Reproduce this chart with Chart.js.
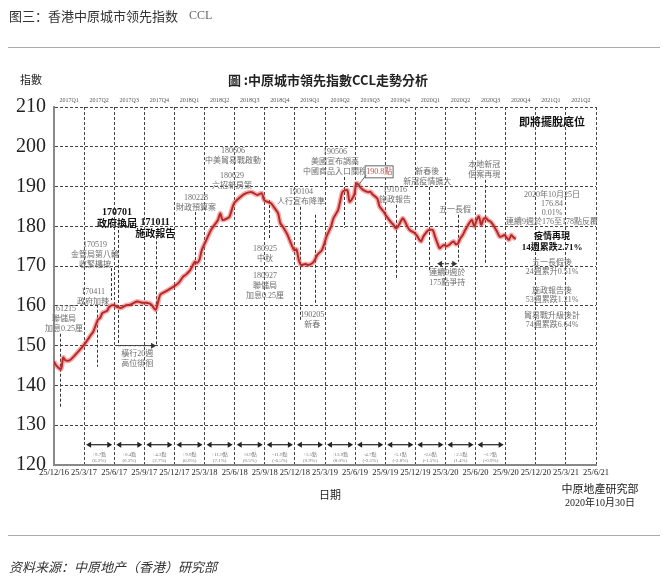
<!DOCTYPE html>
<html>
<head>
<meta charset="utf-8">
<script src="https://cdn.jsdelivr.net/npm/chart.js@4"></script>
<style>
  body { margin: 0; background: #fff; }
</style>
</head>
<body>
<canvas id="myChart" width="668" height="581"></canvas>
<script>
// Semanas desde 25/12/2016 y valor del indice CCL
const weeks = [0,1,3,4,5,7,10,13,16,17,19,20,21,23,24,26,27,29,31,33,36,38,40,42,44,45,46,48,50,52,54,56,57,59,61,62,63,64,66,68,71,72,73,75,76,78,81,83,85,86,88,90,91,94,95,97,98,99,101,102,104,105,106,107,109,110,112,113,114,116,117,118,120,121,123,124,125,127,128,130,131,133,134,136,137,138,140,141,143,144,146,147,148,149,151,152,153,154,156,157,158,159,160,161,162,164,165,167,168,169,170,171,172,173,174,175,176,177,178,179,180,181,182,183,184,185,186,187,188,189,190,191,192,193,194,195,196,197,198,199,200];
const ccl = [146.0,145.0,144.1,147.0,146.3,146.4,148.2,150.2,152.7,153.5,156.5,157.0,158.2,158.8,159.8,160.2,159.8,159.5,160.1,160.3,161.1,160.8,160.8,160.4,159.0,160.8,162.8,163.5,164.2,164.9,165.8,167.4,167.8,169.0,171.1,170.8,171.6,174.0,176.6,179.1,181.6,183.3,181.6,182.0,182.4,185.8,187.5,188.3,188.6,188.5,187.9,188.3,186.6,185.8,185.0,183.3,180.8,180.0,178.0,176.6,174.0,174.2,171.6,170.3,170.5,170.3,170.8,171.6,172.8,174.0,175.5,177.4,180.0,182.0,184.1,186.5,188.7,189.1,186.2,187.9,190.8,189.6,189.1,188.6,188.7,188.0,187.0,185.0,183.5,182.5,181.0,180.4,179.5,180.0,182.0,181.2,180.0,179.1,178.4,177.8,176.8,176.2,177.5,178.3,179.0,179.1,177.4,174.5,175.0,175.3,175.0,175.3,175.8,176.2,175.5,175.8,177.0,177.8,179.0,180.0,181.0,181.6,180.0,181.5,182.5,180.4,181.8,182.1,181.5,181.2,180.5,179.6,178.5,177.4,177.5,177.8,177.2,176.6,177.8,177.2,176.84];

// Fechas del eje x (cada trimestre) y nombres de trimestre arriba
const tickDates = ['25/12/16','25/3/17','25/6/17','25/9/17','25/12/17','25/3/18','25/6/18','25/9/18','25/12/18','25/3/19','25/6/19','25/9/19','25/12/19','25/3/20','25/6/20','25/9/20','25/12/20','25/3/21','25/6/21'];
const quarterNames = ['2017Q1','2017Q2','2017Q3','2017Q4','2018Q1','2018Q2','2018Q3','2018Q4','2019Q1','2019Q2','2019Q3','2019Q4','2020Q1','2020Q2','2020Q3','2020Q4','2021Q1','2021Q2'];

// Cambio por trimestre (flechas de abajo)
const qChange = ['+9.7點','+0.4點','+4.3點','+9.9點','+11.9點','+0.9點','-11.9點','+1.5點','+13.9點','-4.7點','-5.1點','-2.6點','+2.5點','-1.7點'];
const qPct = ['(6.2%)','(0.3%)','(2.7%)','(6.0%)','(7.1%)','(0.5%)','(-6.5%)','(0.9%)','(8.0%)','(-2.5%)','(-2.8%)','(-1.5%)','(1.4%)','(-0.9%)'];

// Eventos: w = semana del texto, ty = valor del primer renglon, linea en semana lw de l1 a l2
const events = [
  {w:4.3, ty:159.2, lines:['161215','聯儲局','加息0.25厘'], lw:2.6, l1:153, l2:134.5},
  {w:16.9, ty:163.6, lines:['170411','政府加辣'], lw:18.6, l1:160.3, l2:144.7},
  {w:17.8, ty:175.3, lines:['170519','金管局第八輪','收緊樓按'], lw:24.7, l1:169.5, l2:161.5},
  {w:27.3, ty:183.6, lines:['170701','政府換屆'], lw:27.7, l1:179.1, l2:150, bold:true},
  {w:43.8, ty:181.1, lines:['171011','施政報告'], lw:44.2, l1:177.5, l2:150, bold:true},
  {w:36, ty:148.0, lines:['橫行20週','高位徘徊']},
  {w:61.5, ty:187.1, lines:['180228','財政預算案'], lw:61.1, l1:183.6, l2:163.5},
  {w:77.5, ty:198.9, lines:['180606','中美貿易戰啟動']},
  {w:77.1, ty:192.7, lines:['180629','六招新房策']},
  {w:91.4, ty:174.3, lines:['180925','中秋'], lw:93.1, l1:186.6, l2:177},
  {w:91.4, ty:167.5, lines:['180927','聯儲局','加息0.25厘']},
  {w:107, ty:188.6, lines:['190104','人行宣布降準'], lw:106.6, l1:184.9, l2:156.5},
  {w:111.8, ty:157.7, lines:['190205','新春'], lw:113.1, l1:182.9, l2:160.3},
  {w:121.7, ty:198.7, lines:['190506','美國宣布調高','中國商品入口關稅'], lw:125.6, l1:192.4, l2:179.6},
  {w:147.7, ty:189.1, lines:['191016','施政報告'], lw:148.2, l1:185.4, l2:166.5},
  {w:161.6, ty:193.7, lines:['新春後','新冠疫情擴大'], lw:162.5, l1:189.9, l2:168.5},
  {w:170.3, ty:168.3, lines:['連續9週於','175點爭持']},
  {w:173.7, ty:184.1, lines:['五一長假'], lw:175, l1:182.9, l2:171.1},
  {w:186.3, ty:195.4, lines:['本地新冠','個案再現'], lw:186.7, l1:191.7, l2:170.8}
];

// Panel de la derecha
const sideNotes = [
  {ty:206, lines:['即將擺脫底位'], bold:true, big:true},
  {ty:187.9, lines:['2020年10月25日','176.84','0.01%','連續9週於176至178點反覆']},
  {ty:177.3, lines:['疫情再現','14週累跌2.71%'], bold:true},
  {ty:170.8, lines:['五一長假後','24週累升0.51%']},
  {ty:163.8, lines:['施政報告後','53週累跌1.21%']},
  {ty:157.5, lines:['貿易戰升級後計','74週累跌6.64%']}
];

const wpq = 13.04; // semanas por trimestre
const cjk = '"Liberation Serif", "Noto Sans CJK TC", serif';

function punta(ctx, x, y, dir, s) {
  ctx.beginPath();
  ctx.moveTo(x, y);
  ctx.lineTo(x - dir * s, y - s * 0.6);
  ctx.lineTo(x - dir * s, y + s * 0.6);
  ctx.closePath();
  ctx.fill();
}

const notas = {
  id: 'notas',
  beforeDatasetsDraw(chart) {
    const {ctx, scales: {x, y}} = chart;
    const px = w => x.getPixelForValue(w / wpq);
    const py = v => y.getPixelForValue(v);
    ctx.save();
    ctx.strokeStyle = '#333';
    ctx.lineWidth = 1;
    ctx.setLineDash([3, 2]);
    events.forEach(e => {
      if (e.lw === undefined) return;
      ctx.beginPath();
      ctx.moveTo(Math.round(px(e.lw)) + 0.5, py(e.l1));
      ctx.lineTo(Math.round(px(e.lw)) + 0.5, py(e.l2));
      ctx.stroke();
    });
    // flecha punteada 170701 -> 171011
    ctx.beginPath();
    ctx.moveTo(px(27.7), py(150));
    ctx.lineTo(px(44.2) - 4, py(150));
    ctx.stroke();
    // flecha <--> 2020
    ctx.beginPath();
    ctx.moveTo(px(165.9) + 4, py(170.6));
    ctx.lineTo(px(174.6) - 4, py(170.6));
    ctx.stroke();
    ctx.setLineDash([]);
    ctx.fillStyle = '#333';
    punta(ctx, px(44.2), py(150), 1, 5);
    punta(ctx, px(165.9), py(170.6), -1, 5);
    punta(ctx, px(174.6), py(170.6), 1, 5);

    // flechas de cambio trimestral
    ctx.strokeStyle = '#222';
    ctx.fillStyle = '#222';
    ctx.lineWidth = 1.2;
    for (let i = 0; i < qChange.length; i++) {
      const x1 = x.getPixelForValue(i + 1) + 2;
      const x2 = x.getPixelForValue(i + 2) - 2;
      const yy = py(125.1);
      ctx.beginPath();
      ctx.moveTo(x1 + 4, yy);
      ctx.lineTo(x2 - 4, yy);
      ctx.stroke();
      punta(ctx, x1, yy, -1, 5);
      punta(ctx, x2, yy, 1, 5);
    }
    ctx.restore();
  },
  afterDatasetsDraw(chart) {
    const {ctx, scales: {x, y}} = chart;
    const px = w => x.getPixelForValue(w / wpq);
    const py = v => y.getPixelForValue(v);
    ctx.save();
    ctx.textAlign = 'center';
    ctx.textBaseline = 'middle';

    events.forEach(e => {
      ctx.font = e.bold ? 'bold 10px ' + cjk : '8px ' + cjk;
      ctx.fillStyle = e.bold ? '#111' : '#6f6f6f';
      const step = e.bold ? 12 : 10;
      e.lines.forEach((t, k) => ctx.fillText(t, px(e.w), py(e.ty) + k * step));
    });

    sideNotes.forEach(n => {
      ctx.font = n.big ? 'bold 11px ' + cjk : (n.bold ? 'bold 9px ' + cjk : '8px ' + cjk);
      ctx.fillStyle = n.bold ? '#111' : '#6f6f6f';
      const step = n.bold ? 11 : 9;
      n.lines.forEach((t, k) => ctx.fillText(t, px(215.7), py(n.ty) + k * step));
    });

    // caja del maximo
    const bx = px(140.8), by = py(193.7);
    ctx.strokeStyle = '#666';
    ctx.lineWidth = 1;
    ctx.fillStyle = '#fff';
    ctx.fillRect(bx - 14, by - 6, 28, 12);
    ctx.strokeRect(bx - 14, by - 6, 28, 12);
    ctx.fillStyle = '#c05050';
    ctx.font = '8px ' + cjk;
    ctx.fillText('190.8點', bx, by);
    ctx.beginPath();
    ctx.moveTo(px(135.2), py(192.9));
    ctx.lineTo(px(131.4), py(190.0));
    ctx.stroke();

    // textos de cambio trimestral
    ctx.font = '5px ' + cjk;
    ctx.fillStyle = '#777';
    for (let i = 0; i < qChange.length; i++) {
      const xm = x.getPixelForValue(i + 1.5);
      ctx.fillText(qChange[i], xm, py(122.7));
      ctx.fillText(qPct[i], xm, py(121.2));
    }

    // nombres de trimestre arriba
    ctx.font = '6px ' + cjk;
    ctx.fillStyle = '#555';
    quarterNames.forEach((q, i) => ctx.fillText(q, x.getPixelForValue(i + 0.5), chart.chartArea.top - 7));
    ctx.restore();
  },
  afterDraw(chart) {
    const {ctx} = chart;
    ctx.save();
    ctx.fillStyle = '#333';
    ctx.textBaseline = 'middle';
    ctx.textAlign = 'left';
    ctx.font = '13px "Noto Sans CJK SC"';
    ctx.fillText('图三：香港中原城市领先指数', 9, 16);
    ctx.font = '12px "Liberation Serif"';
    ctx.fillStyle = '#666';
    ctx.fillText('CCL', 189, 16);

    ctx.strokeStyle = '#aaa';
    ctx.lineWidth = 1;
    ctx.beginPath();
    ctx.moveTo(8, 47.5); ctx.lineTo(660, 47.5);
    ctx.moveTo(8, 535.5); ctx.lineTo(660, 535.5);
    ctx.stroke();

    ctx.fillStyle = '#222';
    ctx.font = '11px "Noto Sans CJK TC"';
    ctx.fillText('指數', 20, 80);
    ctx.textAlign = 'center';
    ctx.font = 'bold 13px "Noto Sans CJK TC"';
    ctx.fillText('圖 :中原城市領先指數CCL走勢分析', 328, 80);
    ctx.font = '11px "Noto Sans CJK TC"';
    ctx.fillText('日期', 330, 495);
    ctx.fillText('中原地產研究部', 600, 489);
    ctx.font = '10px "Liberation Serif", "Noto Sans CJK TC"';
    ctx.fillText('2020年10月30日', 600, 503);

    ctx.textAlign = 'left';
    ctx.fillStyle = '#333';
    ctx.font = 'italic 13px "Noto Sans CJK SC"';
    ctx.fillText('资料来源：中原地产（香港）研究部', 9, 567);
    ctx.restore();
  }
};

const puntos = weeks.map((w, i) => ({x: w / wpq, y: ccl[i]}));
const ctx = document.getElementById('myChart');

new Chart(ctx, {
  type: 'line',
  data: {
    datasets: [{
      data: puntos,
      borderColor: 'rgba(235,70,70,0.45)',
      borderWidth: 5,
      pointRadius: 0,
      tension: 0.25
    }, {
      data: puntos,
      borderColor: '#8a1212',
      borderWidth: 2,
      pointRadius: 0,
      tension: 0.25
    }]
  },
  options: {
    responsive: false,
    animation: false,
    layout: { padding: { top: 107, right: 72, bottom: 96, left: 0 } },
    plugins: { legend: { display: false }, tooltip: { enabled: false } },
    scales: {
      x: {
        type: 'linear',
        min: 0,
        max: 18,
        afterBuildTicks: s => { s.ticks = tickDates.map((t, i) => ({value: i})); },
        afterFit: s => { s.height = 20; },
        ticks: {
          autoSkip: false,
          maxRotation: 0,
          padding: 3,
          color: '#222',
          font: { family: 'Liberation Serif', size: 8.5 },
          callback: v => tickDates[v]
        },
        grid: { color: '#444', lineWidth: 1, drawTicks: false },
        border: { display: true, color: '#888', width: 2, dash: [3, 2] }
      },
      y: {
        min: 120,
        max: 210,
        afterFit: s => { s.width = 54; },
        ticks: {
          stepSize: 10,
          padding: 8,
          color: '#222',
          font: { family: 'Liberation Serif', size: 20 }
        },
        grid: { color: '#444', lineWidth: 1, drawTicks: false },
        border: { display: true, color: '#888', width: 2, dash: [3, 2] }
      }
    }
  },
  plugins: [notas]
});
</script>
</body>
</html>
